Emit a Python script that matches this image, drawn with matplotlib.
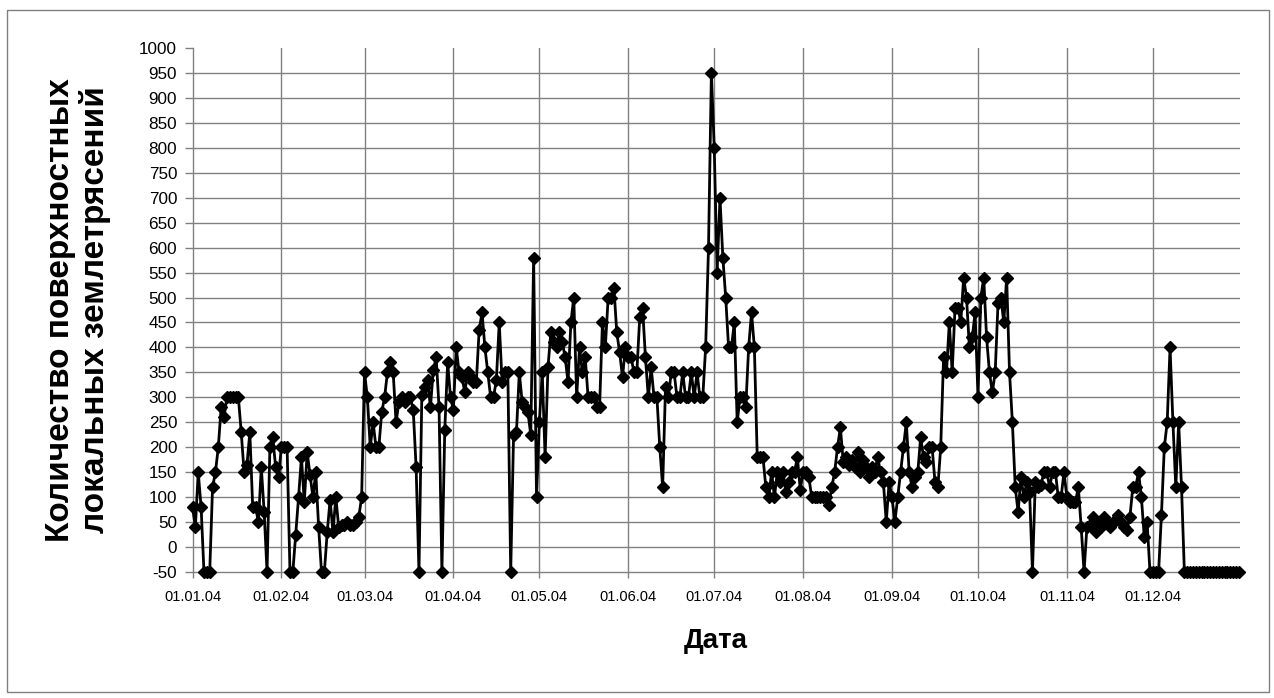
import numpy as np
import pandas as pd
import matplotlib
matplotlib.use("Agg")
import matplotlib.pyplot as plt
import matplotlib.dates as mdates
from matplotlib.patches import Rectangle

# ---- data (daily counts, 2004) ----
jan = [80, 40, 150, 80, -50, -50, -50, 120, 150, 200, 280, 260, 300, 300, 300, 300,
       300, 230, 150, 165, 230, 80, 80, 50, 160, 70, -50, 200, 220, 160, 140]
feb = [200, 200, 200, -50, -50, 25, 100, 180, 90, 190, 145, 100, 150, 40, -50,
       -50, 30, 95, 30, 100, 40, 45, 45, 50, 45, 45, 50, 60, 100]
mar = [350, 300, 200, 250, 200, 200, 270, 300, 350, 370, 350, 250, 290, 300, 290, 300,
       300, 275, 160, -50, 305, 320, 335, 280, 355, 380, 280, -50, 235, 370, 300]
apr = [275, 400, 350, 340, 310, 350, 340, 330, 330, 435, 470, 400, 350, 300, 300,
       335, 450, 330, 350, 350, -50, 225, 230, 350, 290, 280, 270, 225, 580, 100]
may = [250, 350, 180, 360, 430, 410, 400, 430, 410, 380, 330, 450, 500, 300, 400, 350,
       380, 300, 300, 300, 280, 280, 450, 400, 500, 500, 520, 430, 390, 340, 400]
jun = [380, 380, 350, 350, 460, 480, 380, 300, 360, 300, 300, 200, 120, 320, 300,
       350, 350, 300, 300, 350, 300, 300, 350, 300, 350, 300, 300, 400, 600, 950]
jul = [800, 550, 700, 580, 500, 400, 400, 450, 250, 300, 300, 280, 400, 470, 400, 180,
       180, 180, 120, 100, 150, 100, 150, 130, 150, 110, 130, 150, 150, 180, 115]
aug = [150, 150, 140, 100, 100, 100, 100, 100, 100, 85, 120, 150, 200, 240, 170, 180,
       165, 175, 160, 190, 150, 175, 160, 140, 160, 150, 180, 150, 130, 50, 130]
sep = [100, 50, 100, 150, 200, 250, 150, 120, 140, 150, 220, 180, 170, 200, 200,
       130, 120, 200, 380, 350, 450, 350, 480, 480, 450, 540, 500, 400, 420, 470]
oct_ = [300, 500, 540, 420, 350, 310, 350, 490, 500, 450, 540, 350, 250, 120, 70, 140,
        100, 130, 110, -50, 130, 120, 125, 150, 150, 120, 150, 150, 100, 100, 150]
nov = [100, 90, 90, 90, 120, 40, -50, 40, 45, 60, 30, 50, 40, 60, 50, 40, 50, 55, 65,
       50, 40, 35, 60, 120, 120, 150, 100, 20, 50, -50]
dec = [-50, -50, -50, 65, 200, 250, 400, 250, 120, 250, 120] + [-50] * 20

values = jan + feb + mar + apr + may + jun + jul + aug + sep + oct_ + nov + dec
dates = pd.date_range("2004-01-01", periods=len(values), freq="D")

y_ticks = list(range(-50, 1001, 50))
month_ticks = pd.date_range("2004-01-01", "2004-12-01", freq="MS")

x_label = "Дата"
y_label = "Количество поверхностных\nлокальных землетрясений"

# ---- figure ----
plt.rcParams['font.family'] = ['Liberation Sans', 'DejaVu Sans']
plt.rcParams['axes.unicode_minus'] = False

W, H = 1274, 698
fig = plt.figure(figsize=(W / 100, H / 100), dpi=100)
fig.patch.set_facecolor("white")

# outer chart frame
fig.add_artist(Rectangle((7 / W, 1 - 692 / H), (1269 - 7) / W, (692 - 10) / H,
                         transform=fig.transFigure, fill=False,
                         edgecolor="#808080", linewidth=1.0))

ax_l, ax_r, ax_t, ax_b = 192.5, 1240, 48, 572
ax = fig.add_axes([ax_l / W, 1 - ax_b / H, (ax_r - ax_l) / W, (ax_b - ax_t) / H])

ax.plot(dates, values, color="black", linewidth=2.0, marker="D", markersize=6.2,
        markerfacecolor="black", markeredgecolor="black", clip_on=False, zorder=3)

ax.set_ylim(-50, 1000)
x0 = pd.Timestamp("2004-01-01")
ax.set_xlim(x0, x0 + pd.Timedelta(days=365.4))

ax.set_yticks(y_ticks)
ax.set_yticklabels([str(v) for v in y_ticks])
ax.set_xticks(month_ticks)
ax.xaxis.set_major_formatter(mdates.DateFormatter("%d.%m.%y"))

grid_c = "#808080"
for v in y_ticks[1:-1]:
    ax.axhline(v, color=grid_c, linewidth=1.0, zorder=1)
for d in month_ticks[1:]:
    ax.plot([d, d], [-50, 1000], color=grid_c, linewidth=1.0, zorder=1)

for s in ["top", "right"]:
    ax.spines[s].set_visible(False)
ax.spines["left"].set_color(grid_c)
ax.spines["bottom"].set_color(grid_c)
ax.spines["left"].set_linewidth(1.0)
ax.spines["bottom"].set_linewidth(1.0)

ax.tick_params(axis="y", direction="out", length=6, width=1, color=grid_c,
               labelsize=12.3, pad=5)
ax.tick_params(axis="x", direction="out", length=4, width=1, color=grid_c,
               labelsize=10.5, pad=9)

fig.text(716 / W, 1 - 641 / H, x_label, ha="center", va="center",
         fontsize=20, fontweight="bold")
fig.text(78 / W, 1 - 310 / H, y_label, ha="center", va="center", rotation=90,
         fontsize=24, fontweight="bold", linespacing=1.1, multialignment="center")

fig.savefig("out.png", dpi=100, facecolor="white")
